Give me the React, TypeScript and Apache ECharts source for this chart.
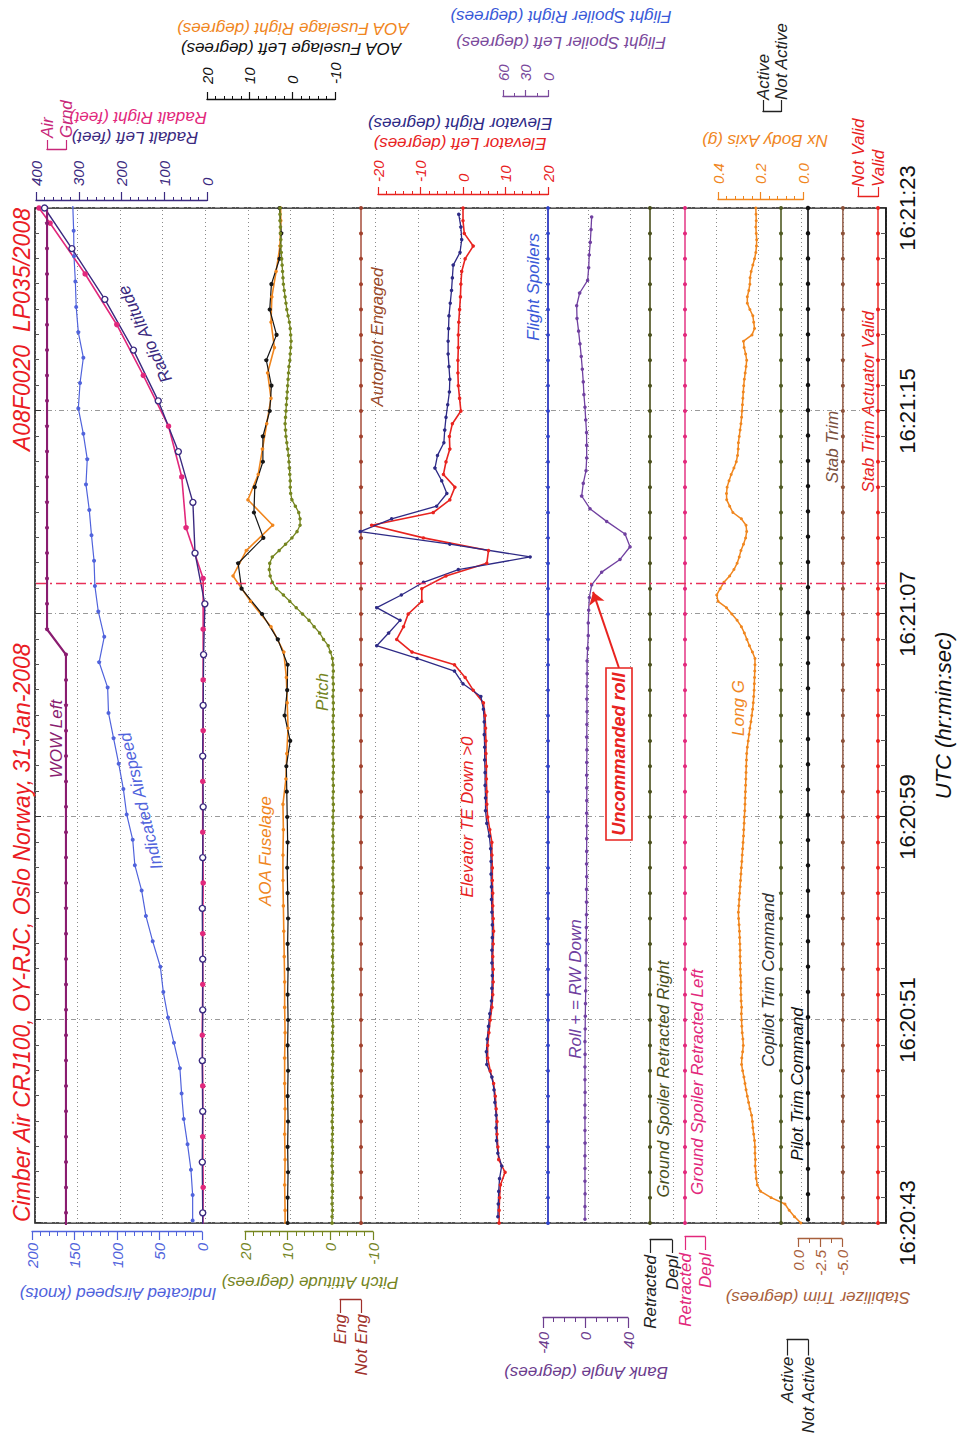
import React, { useEffect, useRef } from "react";
import * as echarts from "echarts";

// Landscape drawing surface, rotated -90deg onto the 957x1437 page
const W = 1437;
const H = 957;
const FONT = '"Liberation Sans", Arial, Helvetica, sans-serif';
const FRAME = { left: 214, right: 1229, top: 35, bottom: 886 };

// ---------- time axis (seconds after 16:20:43) ----------
const START_SECONDS = 16 * 3600 + 20 * 60 + 43;
const T_MAX = 40;
const TIME_STEP = 8;
const EVENT_T = 25.2;

// ---------- data ----------
// Indicated airspeed, knots, 1 Hz from t=0.1
const IAS = [11, 11, 13, 17, 21.5, 24, 26, 33, 40, 45.5, 49, 58, 66, 71, 79, 81.5, 88.6, 92.5, 98, 104, 110, 111, 121, 115, 122, 126, 127, 130, 132.6, 136.5, 135, 139.6, 145.5, 143.5, 139.6, 145.5, 148, 149, 150.6, 151, 152];
// Radio altitude, feet
const RADALT_L_T = [-1.6, 0.4, 2.4, 4.4, 6.4, 8.4, 10.4, 12.4, 14.4, 16.4, 18.4, 20.4, 22.4, 24.4, 26.4, 28.4, 30.4, 32.4, 34.4, 36.4, 38.4, 40];
const RADALT_L = [10, 10, 11, 10, 11, 10, 10, 11, 10, 9, 10, 9, 8, 5, 28, 33, 67, 114, 172, 239, 316, 380];
const RADALT_R_T = [-0.6, 1.4, 3.4, 5.4, 7.4, 9.4, 11.4, 13.4, 15.4, 17.4, 19.4, 21.4, 23.4, 25.4, 27.4, 29.4, 31.4, 33.4, 35.4, 37.4, 39.4, 40];
const RADALT_R = [10, 9, 10, 10, 11, 10, 10, 9, 10, 10, 9, 9, 9, 9, 49, 59, 90, 149, 211, 285, 367, 393];
// WOW left: 0 = Grnd, 1 = Air, 1 Hz from t=-0.6
const WOW = [0, 0, 0, 0, 0, 0, 0, 0, 0, 0, 0, 0, 0, 0, 0, 0, 0, 0, 0, 0, 0, 0, 0, 0, 1, 1, 1, 1, 1, 1, 1, 1, 1, 1, 1, 1, 1, 1, 1, 1, 1, 1];
// AOA fuselage, degrees
const AOA_L = [1.1, 1.1, 1.0, 1.1, 1.0, 1.1, 1.0, 1.1, 1.0, 1.1, 1.0, 1.1, 1.0, 1.1, 1.2, 1.1, 1.2, 1.3, 1.4, 0.5, 1.8, 1.2, 1.1, 3.4, 7.1, 11.9, 12.7, 6.8, 9.0, 8.8, 6.9, 6.9, 5.3, 4.9, 6.1, 3.7, 5.3, 4.9, 3.0, 2.6, 3.0];
const AOA_R = [1.7, 1.7, 1.8, 1.7, 1.8, 1.7, 1.8, 1.8, 1.7, 1.8, 1.8, 1.9, 2.0, 2.1, 2.2, 2.2, 2.1, 2.2, 1.5, 1.3, 1.0, 1.2, 1.4, 2.0, 5.0, 9.8, 13.9, 10.8, 4.6, 10.4, 8.0, 7.0, 6.0, 5.0, 5.8, 4.2, 5.0, 4.8, 3.8, 2.9, 2.7, 2.8];
// Pitch attitude, degrees, 4 Hz from t=0
const PITCH = [
  -0.4, -0.4, -0.5, -0.4, -0.4, -0.5, -0.4, -0.4, -0.5, -0.4,
  -0.4, -0.5, -0.5, -0.4, -0.5, -0.5, -0.4, -0.5, -0.5, -0.5,
  -0.5, -0.5, -0.4, -0.5, -0.5, -0.5, -0.5, -0.6, -0.5, -0.5,
  -0.5, -0.6, -0.5, -0.5, -0.6, -0.5, -0.5, -0.6, -0.6, -0.5,
  -0.6, -0.6, -0.5, -0.6, -0.6, -0.6, -0.5, -0.6, -0.6, -0.6,
  -0.6, -0.6, -0.6, -0.7, -0.6, -0.6, -0.6, -0.7, -0.6, -0.6,
  -0.7, -0.6, -0.6, -0.7, -0.6, -0.7, -0.7, -0.6, -0.7, -0.7,
  -0.6, -0.7, -0.7, -0.7, -0.6, -0.7, -0.7, -0.7, -0.7, -0.6,
  -0.7, -0.7, -0.7, -0.6, -0.7, -0.7, -0.6, -0.7, -0.6,
  -0.5, 0.0, 0.5, 1.6, 2.5, 3.8, 5.0, 6.5, 8.0, 9.5,
  11.0, 12.6, 13.6, 14.1, 14.3, 14.2, 13.6, 12.0, 10.5, 9.0,
  7.8, 7.1, 7.1, 7.4, 8.2, 9.0, 9.3, 9.4, 9.4, 9.5,
  9.6, 9.7, 9.8, 10.0, 10.2, 10.4, 10.5, 10.6, 10.5, 10.4,
  10.3, 10.2, 10.1, 10.0, 9.9, 9.8, 9.7, 9.5, 9.4, 9.3,
  9.2, 9.3, 9.4, 9.6, 9.9, 10.2, 10.4, 10.6, 10.8, 11.0,
  11.1, 11.2, 11.3, 11.4, 11.5, 11.6, 11.6, 11.7, 11.7, 11.8,
  11.8, 11.8,
];
// Autopilot engaged: 0 = Not Eng, 1 Hz
const AP_ENGAGED = [0, 0, 0, 0, 0, 0, 0, 0, 0, 0, 0, 0, 0, 0, 0, 0, 0, 0, 0, 0, 0, 0, 0, 0, 0, 0, 0, 0, 0, 0, 0, 0, 0, 0, 0, 0, 0, 0, 0, 0, 0];
// Elevator, degrees (TE down > 0), 2 Hz
const ELEV_L = [
  8.5, 8.5, 8.6, 8.8, 9.9, 8.4, 8.2, 8.0, 8.0, 7.8,
  7.6, 7.2, 6.4, 5.8, 5.8, 6.1, 6.4, 6.8, 7.0, 7.1,
  7.1, 7.0, 7.1, 7.2, 7.1, 7.0, 7.0, 6.9, 6.9, 6.8,
  6.8, 6.3, 5.8, 5.6, 5.6, 5.5, 5.5, 5.4, 5.4, 5.3,
  5.2, 4.8, 2.4, 0.5, -2.0, -12.0, -15.6, -14.0, -12.9, -9.7,
  -9.7, -4.0, 5.6, 6.0, -9.3, -21.5, -7.0, -3.1, -1.9, -4.6,
  -4.0, -3.1, -3.2, -2.5, -0.5, -0.8, -1.1, -1.2, -1.2, -1.1,
  -1.1, -1.0, -0.8, -0.6, -0.5, -0.3, 0.5, 2.4, 0.3, 0.0,
  0.0,
];
const ELEV_R = [
  8.2, 8.3, 8.4, 8.6, 9.1, 8.2, 7.9, 7.8, 7.8, 7.5,
  7.3, 6.8, 5.6, 5.5, 5.7, 6.0, 6.3, 6.7, 6.8, 6.9,
  6.8, 6.8, 6.9, 6.9, 6.8, 6.7, 6.7, 6.6, 6.6, 6.5,
  6.2, 5.6, 5.3, 5.3, 5.2, 5.2, 5.1, 5.1, 5.0, 5.0,
  4.8, 4.2, 0.0, -2.0, -10.8, -20.3, -17.5, -14.8, -20.3, -14.5,
  -9.3, -1.1, 15.8, -3.1, -24.2, -16.8, -6.2, -3.8, -5.0, -6.6,
  -6.0, -4.5, -4.3, -4.0, -3.6, -3.2, -3.1, -3.3, -3.5, -3.5,
  -3.4, -3.3, -3.0, -2.7, -2.5, -2.3, -0.7, -0.3, -0.5, -1.0,
];
// Flight spoilers, degrees, 1 Hz
const FSP_L = [0, 0, 0, 0, 0, 0, 0, 0, 0, 0, 0, 0, 0, 0, 0, 0, 0, 0, 0, 0, 0, 0, 0, 0, 0, 0, 0, 0, 0, 0, 0, 0, 0, 0, 0, 0, 0, 0, 0, 0, 0];
const FSP_R = [0, 0, 0, 0, 0, 0, 0, 0, 0, 0, 0, 0, 0, 0, 0, 0, 0, 0, 0, 0, 0, 0, 0, 0, 0, 0, 0, 0, 0, 0, 0, 0, 0, 0, 0, 0, 0, 0, 0, 0, 0];
// Bank angle, degrees (+ = RW down), 2 Hz from t=0.15
const ROLL = [
  -0.5, -0.5, -0.4, -0.5, -0.5, -0.5, -0.4, -0.5, -0.5, -0.5,
  -0.4, -0.5, -0.5, -0.4, -0.5, -0.3, -0.2, 0.0, 0.2, 0.4,
  0.5, 0.6, 0.7, 0.8, 0.9, 1.0, 1.0, 1.1, 1.0, 1.1,
  1.1, 1.2, 1.1, 1.2, 1.2, 1.1, 1.2, 1.3, 1.2, 1.3,
  1.4, 1.3, 1.4, 1.5, 1.5, 2.0, 2.6, 2.6, 3.0, 3.6,
  5.8, 15.2, 32.5, 41.9, 37.2, 19.9, 4.2, -3.6, -2.1, 0.5,
  1.1, 1.1, 1.0, 0.2, -0.5, -1.5, -2.1, -3.0, -4.0, -5.2,
  -6.5, -8.0, -8.3, -5.5, 2.0, 3.0, 3.5, 4.5, 5.2, 5.8,
];
// Ground spoilers: 0 = Retracted, 1 Hz
const GS_RIGHT = [0, 0, 0, 0, 0, 0, 0, 0, 0, 0, 0, 0, 0, 0, 0, 0, 0, 0, 0, 0, 0, 0, 0, 0, 0, 0, 0, 0, 0, 0, 0, 0, 0, 0, 0, 0, 0, 0, 0, 0, 0];
const GS_LEFT = [0, 0, 0, 0, 0, 0, 0, 0, 0, 0, 0, 0, 0, 0, 0, 0, 0, 0, 0, 0, 0, 0, 0, 0, 0, 0, 0, 0, 0, 0, 0, 0, 0, 0, 0, 0, 0, 0, 0, 0, 0];
// Longitudinal acceleration Nx, g, 4 Hz from t=0
const LONG_G = [
  0.01, 0.04, 0.065, 0.085, 0.15, 0.2, 0.215, 0.22, 0.222, 0.225,
  0.224, 0.226, 0.226, 0.228, 0.232, 0.236, 0.238, 0.242, 0.25, 0.256,
  0.262, 0.268, 0.273, 0.278, 0.284, 0.289, 0.288, 0.284, 0.281, 0.283,
  0.286, 0.288, 0.289, 0.29, 0.289, 0.291, 0.292, 0.293, 0.292, 0.294,
  0.295, 0.295, 0.296, 0.296, 0.297, 0.298, 0.299, 0.301, 0.303, 0.304,
  0.302, 0.3, 0.298, 0.296, 0.294, 0.292, 0.29, 0.288, 0.286, 0.284,
  0.282, 0.28, 0.279, 0.277, 0.276, 0.274, 0.273, 0.272, 0.271, 0.27,
  0.269, 0.268, 0.267, 0.266, 0.265, 0.262, 0.258, 0.254, 0.25, 0.245,
  0.241, 0.237, 0.234, 0.232, 0.23, 0.229, 0.228, 0.227, 0.226, 0.226,
  0.238, 0.252, 0.264, 0.276, 0.29, 0.31, 0.335, 0.36, 0.4, 0.406,
  0.39, 0.372, 0.345, 0.325, 0.31, 0.3, 0.292, 0.28, 0.27, 0.265,
  0.268, 0.29, 0.33, 0.345, 0.359, 0.36, 0.357, 0.348, 0.338, 0.325,
  0.314, 0.308, 0.305, 0.304, 0.3, 0.296, 0.292, 0.289, 0.287, 0.285,
  0.283, 0.281, 0.279, 0.276, 0.272, 0.268, 0.265, 0.27, 0.277, 0.28,
  0.24, 0.228, 0.232, 0.236, 0.25, 0.262, 0.262, 0.255, 0.25, 0.249,
  0.244, 0.236, 0.228, 0.222, 0.219, 0.218, 0.22, 0.222, 0.22, 0.221,
  0.222,
];
// Trim commands: 0 = Not Active, 1 Hz
const COPILOT_TRIM = [0, 0, 0, 0, 0, 0, 0, 0, 0, 0, 0, 0, 0, 0, 0, 0, 0, 0, 0, 0, 0, 0, 0, 0, 0, 0, 0, 0, 0, 0, 0, 0, 0, 0, 0, 0, 0, 0, 0, 0, 0];
const PILOT_TRIM = [0, 0, 0, 0, 0, 0, 0, 0, 0, 0, 0, 0, 0, 0, 0, 0, 0, 0, 0, 0, 0, 0, 0, 0, 0, 0, 0, 0, 0, 0, 0, 0, 0, 0, 0, 0, 0, 0, 0, 0, 0];
// Stabilizer trim, degrees, 1 Hz
const STAB_TRIM = [-5.1, -5.1, -5.1, -5.1, -5.1, -5.1, -5.1, -5.1, -5.1, -5.1, -5.1, -5.1, -5.1, -5.1, -5.1, -5.1, -5.1, -5.1, -5.1, -5.1, -5.1, -5.1, -5.1, -5.1, -5.1, -5.1, -5.1, -5.1, -5.1, -5.1, -5.1, -5.1, -5.1, -5.1, -5.1, -5.1, -5.1, -5.1, -5.1, -5.1, -5.1];
// Stab trim actuator valid: 1 = Valid, 1 Hz
const STAB_VALID = [1, 1, 1, 1, 1, 1, 1, 1, 1, 1, 1, 1, 1, 1, 1, 1, 1, 1, 1, 1, 1, 1, 1, 1, 1, 1, 1, 1, 1, 1, 1, 1, 1, 1, 1, 1, 1, 1, 1, 1, 1];

// ---------- colours ----------
const RED = "#e8231f";
const NAVY = "#2e2a86";
const RAD_NAVY = "#3b2a80";
const MAGENTA = "#e2287c";
const BLUE = "#5063dc";
const WOW_PURPLE = "#8a1c70";
const ORANGE = "#f0861e";
const OLIVE = "#75851f";
const BROWN = "#a0402c";
const FSP_PURPLE = "#7b4a9c";
const FSP_BLUE = "#2946cf";
const ROLL_PURPLE = "#7040a0";
const DARK_OLIVE = "#4a4f1c";
const STAB_BROWN = "#8c5038";

// ---------- layout of the individual parameter scales (landscape px) ----------
type Scale = {
  id: string; y0: number; y1: number; min: number; max: number; interval: number;
  minor?: number; inverse?: boolean; side: "left" | "right"; offset: number; color: string;
  tick: number; margin: number; labels?: string[]; decimals?: number;
};
const SCALES: Scale[] = [
  { id: "ias", y0: 32, y1: 202, min: 0, max: 200, interval: 50, minor: 5, side: "left", offset: 9, color: BLUE, tick: 8, margin: 11 },
  { id: "rad", y0: 36, y1: 207, min: 0, max: 400, interval: 100, minor: 5, side: "right", offset: 7, color: RAD_NAVY, tick: 9, margin: 15 },
  { id: "wow", y0: 47, y1: 66, min: 0, max: 1, interval: 1, side: "right", offset: 58, color: "#c8287a", tick: 10, margin: 12, labels: ["Grnd", "Air"] },
  { id: "aoa", y0: 207, y1: 335, min: -10, max: 20, interval: 10, minor: 5, side: "right", offset: 108, color: "#111", tick: 8, margin: 16 },
  { id: "pitch", y0: 245, y1: 373, min: -10, max: 20, interval: 10, minor: 5, side: "left", offset: 9, color: OLIVE, tick: 8, margin: 11 },
  { id: "ap", y0: 340, y1: 361, min: 0, max: 1, interval: 1, side: "left", offset: 77, color: "#a0302a", tick: 13, margin: 14, labels: ["Not Eng", "Eng"] },
  { id: "elev", y0: 378, y1: 548, min: -20, max: 20, interval: 10, minor: 5, inverse: true, side: "right", offset: 13, color: RED, tick: 8, margin: 13 },
  { id: "fsp", y0: 503, y1: 548, min: 0, max: 60, interval: 30, minor: 2, side: "right", offset: 111, color: FSP_PURPLE, tick: 7, margin: 16 },
  { id: "bank", y0: 543, y1: 628, min: -40, max: 40, interval: 40, minor: 4, inverse: true, side: "left", offset: 95, color: "#6c3c8e", tick: 10, margin: 14 },
  { id: "gsr", y0: 650, y1: 672, min: 0, max: 1, interval: 1, inverse: true, side: "left", offset: 17, color: "#222", tick: 13, margin: 15, labels: ["Retracted", "Depl"] },
  { id: "gsl", y0: 685, y1: 705, min: 0, max: 1, interval: 1, inverse: true, side: "left", offset: 14, color: MAGENTA, tick: 13, margin: 16, labels: ["Retracted", "Depl"] },
  { id: "nx", y0: 718, y1: 803, min: 0, max: 0.4, interval: 0.2, minor: 5, side: "right", offset: 8, color: ORANGE, tick: 8, margin: 16, decimals: 1 },
  { id: "copilot", y0: 763, y1: 781, min: 0, max: 1, interval: 1, side: "right", offset: 96, color: "#222", tick: 12, margin: 12, labels: ["Not Active", "Active"] },
  { id: "stab", y0: 798, y1: 842, min: -5, max: 0, interval: 2.5, minor: 2, side: "left", offset: 16, color: "#a8603c", tick: 8, margin: 11, decimals: 1 },
  { id: "pilot", y0: 787, y1: 808, min: 0, max: 1, interval: 1, side: "left", offset: 120, color: "#222", tick: 16, margin: 17, labels: ["Not Active", "Active"] },
  { id: "valid", y0: 858, y1: 878, min: 0, max: 1, interval: 1, inverse: true, side: "right", offset: 11, color: RED, tick: 10, margin: 10, labels: ["Not Valid", "Valid"] },
];

const AXIS_NAMES = [
  { text: "Indicated Airspeed (knots)", x: 144, y: 118, color: BLUE },
  { text: "Pitch Attitude (degrees)", x: 155, y: 310, color: OLIVE },
  { text: "Stabilizer Trim (degrees)", x: 140, y: 818, color: "#a8603c" },
  { text: "Bank Angle (degrees)", x: 65, y: 586, color: "#6c3c8e" },
  { text: "Radalt Left (feet)", x: 1300, y: 135, color: RAD_NAVY },
  { text: "Radalt Right (feet)", x: 1320, y: 138, color: MAGENTA },
  { text: "AOA Fuselage Left (degrees)", x: 1389, y: 291, color: "#111" },
  { text: "AOA Fuselage Right (degrees)", x: 1409, y: 293, color: ORANGE },
  { text: "Elevator Left (degrees)", x: 1294, y: 460, color: RED },
  { text: "Elevator Right (degrees)", x: 1314, y: 460, color: NAVY },
  { text: "Flight Spoiler Left (degrees)", x: 1395, y: 561, color: FSP_PURPLE },
  { text: "Flight Spoiler Right (degrees)", x: 1421, y: 561, color: "#3a5ad8" },
  { text: "Nx Body Axis (g)", x: 1297, y: 765, color: ORANGE },
];

const TRACE_LABELS = [
  { text: "WOW Left", x: 698, y: 56, color: WOW_PURPLE, rot: 0 },
  { text: "Indicated Airspeed", x: 636, y: 141, color: BLUE, rot: 13.4 },
  { text: "Radio Altitude", x: 1103, y: 145, color: RAD_NAVY, rot: 25 },
  { text: "AOA Fuselage", x: 586, y: 265, color: ORANGE, rot: 0 },
  { text: "Pitch", x: 745, y: 322, color: OLIVE, rot: 0 },
  { text: "Autopilot Engaged", x: 1100, y: 377, color: "#9a4a2a", rot: 0 },
  { text: "Elevator TE Down >0", x: 620, y: 467, color: RED, rot: 0 },
  { text: "Flight Spoilers", x: 1150, y: 533, color: "#3a5ad8", rot: 0 },
  { text: "Roll + = RW Down", x: 448, y: 575, color: ROLL_PURPLE, rot: 0 },
  { text: "Ground Spoiler Retracted Right", x: 358, y: 663, color: DARK_OLIVE, rot: 0 },
  { text: "Ground Spoiler Retracted Left", x: 355, y: 697, color: MAGENTA, rot: 0 },
  { text: "Long G", x: 729, y: 738, color: ORANGE, rot: 0 },
  { text: "Copilot Trim Command", x: 457, y: 768, color: "#333", rot: 0 },
  { text: "Pilot Trim Command", x: 353, y: 797, color: "#111", rot: 0 },
  { text: "Stab Trim", x: 990, y: 832, color: "#7a5040", rot: 0 },
  { text: "Stab Trim Actuator Valid", x: 1035, y: 868, color: RED, rot: 0 },
];

const pad2 = (n: number) => String(n).padStart(2, "0");
const timeLabel = (v: number) => {
  const s = START_SECONDS + Math.round(v);
  return `${Math.floor(s / 3600)}:${pad2(Math.floor((s % 3600) / 60))}:${pad2(s % 60)}`;
};
const sampled = (t0: number, dt: number, vals: number[]) =>
  vals.map((v, i) => [Math.round((t0 + i * dt) * 1000) / 1000, v]);
const paired = (ts: number[], vals: number[]) => vals.map((v, i) => [ts[i], v]);

function buildOption() {
  const grids: any[] = [];
  const xAxes: any[] = [];
  const yAxes: any[] = [];
  const series: any[] = [];

  grids.push({
    left: FRAME.left, right: W - FRAME.right, top: FRAME.top, bottom: H - FRAME.bottom,
    show: true, borderColor: "#1a1a1a", borderWidth: 1.6, backgroundColor: "transparent",
  });
  xAxes.push({
    gridIndex: 0, type: "value", min: 0, max: T_MAX, interval: TIME_STEP, position: "bottom",
    axisLine: { show: true, onZero: false, lineStyle: { color: "#1a1a1a", width: 1.6 } },
    axisTick: { show: true, inside: true, length: 8, lineStyle: { color: "#333" } },
    minorTick: { show: true, splitNumber: 8, length: 5, lineStyle: { color: "#555" } },
    axisLabel: { formatter: timeLabel, fontSize: 22, color: "#111", fontFamily: FONT, margin: 10 },
    splitLine: { show: true, lineStyle: { color: "#9a9a9a", type: [5, 3, 1, 3], width: 1 } },
  });
  xAxes.push({
    gridIndex: 0, type: "value", min: 0, max: T_MAX, interval: TIME_STEP, position: "top",
    axisLine: { show: false, onZero: false },
    axisTick: { show: true, inside: true, length: 6, lineStyle: { color: "#333" } },
    minorTick: { show: true, splitNumber: 8, length: 4, lineStyle: { color: "#555" } },
    axisLabel: { show: false }, splitLine: { show: false },
  });
  yAxes.push({
    gridIndex: 0, type: "value", min: 0, max: 20, interval: 1,
    axisLine: { show: false, onZero: false }, axisTick: { show: false }, axisLabel: { show: false },
    splitLine: { show: true, lineStyle: { color: "#8a8a8a", type: [1, 3], width: 1 } },
  });

  const idx: Record<string, number> = {};
  SCALES.forEach((s, i) => {
    idx[s.id] = i;
    grids.push({ left: FRAME.left, right: W - FRAME.right, top: s.y0, bottom: H - s.y1 });
    xAxes.push({ gridIndex: i + 1, type: "value", min: 0, max: T_MAX, show: false });
    const fmt = (v: number) => {
      if (s.labels) return s.labels[Math.round(v)] ?? "";
      if (s.decimals) return v.toFixed(s.decimals);
      return String(Math.round(v));
    };
    yAxes.push({
      gridIndex: i + 1, type: "value", min: s.min, max: s.max, interval: s.interval,
      inverse: !!s.inverse, position: s.side, offset: s.offset,
      axisLine: { show: true, onZero: false, lineStyle: { color: s.color, width: 1.3 } },
      axisTick: { show: true, length: s.tick, lineStyle: { color: s.color, width: 1.2 } },
      minorTick: { show: !!s.minor, splitNumber: s.minor || 1, length: 4, lineStyle: { color: s.color, width: 1 } },
      axisLabel: {
        color: s.color, fontSize: s.labels ? 17 : 15, fontStyle: "italic", fontFamily: FONT,
        margin: s.margin, formatter: fmt, showMinLabel: true, showMaxLabel: true,
      },
      splitLine: { show: false },
    });
  });

  const line = (id: string, data: number[][], color: string, o: any = {}) => ({
    type: "line",
    xAxisIndex: idx[id] + 2,
    yAxisIndex: idx[id] + 1,
    data,
    symbol: o.symbol || "circle",
    symbolSize: o.size ?? 3.5,
    showSymbol: true,
    clip: o.clip ?? false,
    silent: true,
    z: o.z ?? 3,
    lineStyle: { color, width: o.width ?? 1.3 },
    itemStyle: { color: o.fill ?? color, borderColor: color, borderWidth: o.bw ?? 0 },
    ...(o.extra || {}),
  });

  series.push(line("ias", sampled(0.1, 1, IAS), BLUE, { size: 4, width: 1.2, clip: true }));
  series.push(line("rad", paired(RADALT_R_T, RADALT_R), MAGENTA, { size: 5.5, width: 1.6, clip: true }));
  series.push(line("rad", paired(RADALT_L_T, RADALT_L), RAD_NAVY, { symbol: "circle", size: 6, fill: "#ffffff", bw: 1.4, width: 1.4, clip: true }));
  series.push(line("wow", sampled(-0.6, 1, WOW), WOW_PURPLE, { size: 4, width: 2.2, clip: true }));
  series.push(line("aoa", sampled(-0.5, 1, AOA_R), ORANGE, { size: 3.5, width: 1.6, clip: true }));
  series.push(line("aoa", sampled(0, 1, AOA_L), "#161616", { size: 4.2, width: 1.2 }));
  series.push(line("pitch", sampled(0, 0.25, PITCH), OLIVE, { size: 3.5, width: 1.3 }));
  series.push(line("ap", sampled(0, 1, AP_ENGAGED), BROWN, { size: 4, width: 1.4 }));
  series.push(line("elev", sampled(0, 0.5, ELEV_L), RED, { size: 3.5, width: 1.6 }));
  series.push(line("elev", sampled(0.25, 0.5, ELEV_R), NAVY, { size: 3.5, width: 1.3 }));
  series.push(line("fsp", sampled(0, 1, FSP_L), FSP_PURPLE, { size: 3.5, width: 1.6 }));
  series.push(line("fsp", sampled(0, 1, FSP_R), FSP_BLUE, { size: 3.5, width: 1.5 }));
  series.push(line("bank", sampled(0.15, 0.5, ROLL), ROLL_PURPLE, {
    size: 3.5, width: 1.3,
    extra: {
      markLine: {
        silent: true, symbol: ["none", "arrow"], symbolSize: 12, animation: false,
        label: { show: false },
        lineStyle: { color: RED, width: 2, type: "solid" },
        data: [[{ coord: [21.87, 31.5] }, { coord: [24.87, 7.1] }]],
      },
    },
  }));
  series.push(line("gsr", sampled(0, 1, GS_RIGHT), DARK_OLIVE, { size: 4, width: 1.6 }));
  series.push(line("gsl", sampled(0, 1, GS_LEFT), MAGENTA, { size: 4, width: 1.4 }));
  series.push(line("nx", sampled(0, 0.25, LONG_G), ORANGE, { size: 3, width: 1.5 }));
  series.push(line("copilot", sampled(0, 1, COPILOT_TRIM), "#4f5a22", { size: 4, width: 1.6 }));
  series.push(line("pilot", sampled(0, 1, PILOT_TRIM), "#111", { size: 4.5, width: 1.6 }));
  series.push(line("stab", sampled(0, 1, STAB_TRIM), STAB_BROWN, { size: 4, width: 1.4 }));
  series.push(line("valid", sampled(0, 1, STAB_VALID), RED, { size: 4, width: 1.4 }));

  // event marker (red dash-dot) on the main grid
  series.push({
    type: "line", xAxisIndex: 0, yAxisIndex: 0, silent: true, z: 4,
    data: [[EVENT_T, 0], [EVENT_T, 20]], symbol: "none",
    lineStyle: { color: "#e8305a", width: 1.6, type: [10, 4, 2, 4] },
  });

  const italic = (size: number, bold = false) => `italic ${bold ? "bold " : ""}${size}px ${FONT}`;
  const graphic: any[] = [];
  graphic.push({
    type: "text", x: FRAME.left + 1, y: 22, silent: true,
    style: { text: "Cimber Air CRJ100, OY-RJC, Oslo Norway, 31-Jan-2008", fill: "#ea1c24", font: italic(23), textAlign: "left", textVerticalAlign: "middle" },
  });
  graphic.push({
    type: "text", x: FRAME.right, y: 22, silent: true,
    style: { text: "A08F0020  LP035/2008", fill: "#ea1c24", font: italic(23), textAlign: "right", textVerticalAlign: "middle" },
  });
  graphic.push({
    type: "text", x: (FRAME.left + FRAME.right) / 2, y: 943, silent: true,
    style: { text: "UTC (hr:min:sec)", fill: "#111", font: italic(22), textAlign: "center", textVerticalAlign: "middle" },
  });
  AXIS_NAMES.forEach((n) => graphic.push({
    type: "text", x: n.x, y: n.y, rotation: Math.PI / 2, silent: true,
    style: { text: n.text, fill: n.color, font: italic(17), textAlign: "center", textVerticalAlign: "middle" },
  }));
  TRACE_LABELS.forEach((n) => graphic.push({
    type: "text", x: n.x, y: n.y, rotation: (n.rot * Math.PI) / 180, silent: true, z: 20,
    style: { text: n.text, fill: n.color, font: italic(17), textAlign: "center", textVerticalAlign: "middle" },
  }));
  graphic.push({
    type: "rect", shape: { x: 597, y: 606, width: 172, height: 26 }, silent: true, z: 20,
    style: { fill: "#ffffff", stroke: RED, lineWidth: 1.6 },
  });
  graphic.push({
    type: "text", x: 683, y: 619, silent: true, z: 21,
    style: { text: "Uncommanded roll", fill: RED, font: italic(18, true), textAlign: "center", textVerticalAlign: "middle" },
  });

  return {
    animation: false,
    backgroundColor: "#ffffff",
    textStyle: { fontFamily: FONT },
    grid: grids,
    xAxis: xAxes,
    yAxis: yAxes,
    series,
    graphic,
  };
}

export default function App() {
  const ref = useRef<HTMLDivElement>(null);
  useEffect(() => {
    if (!ref.current) return;
    const chart = echarts.init(ref.current, null, { renderer: "svg" });
    chart.setOption(buildOption() as any);
    return () => chart.dispose();
  }, []);
  return (
    <div style={{ position: "fixed", left: 0, top: 0, width: 957, height: 1437, overflow: "hidden", background: "#fff" }}>
      <div
        ref={ref}
        style={{
          position: "absolute", left: 0, top: 0, width: W, height: H,
          transformOrigin: "0 0", transform: `translate(0px, ${W}px) rotate(-90deg)`,
        }}
      />
    </div>
  );
}
